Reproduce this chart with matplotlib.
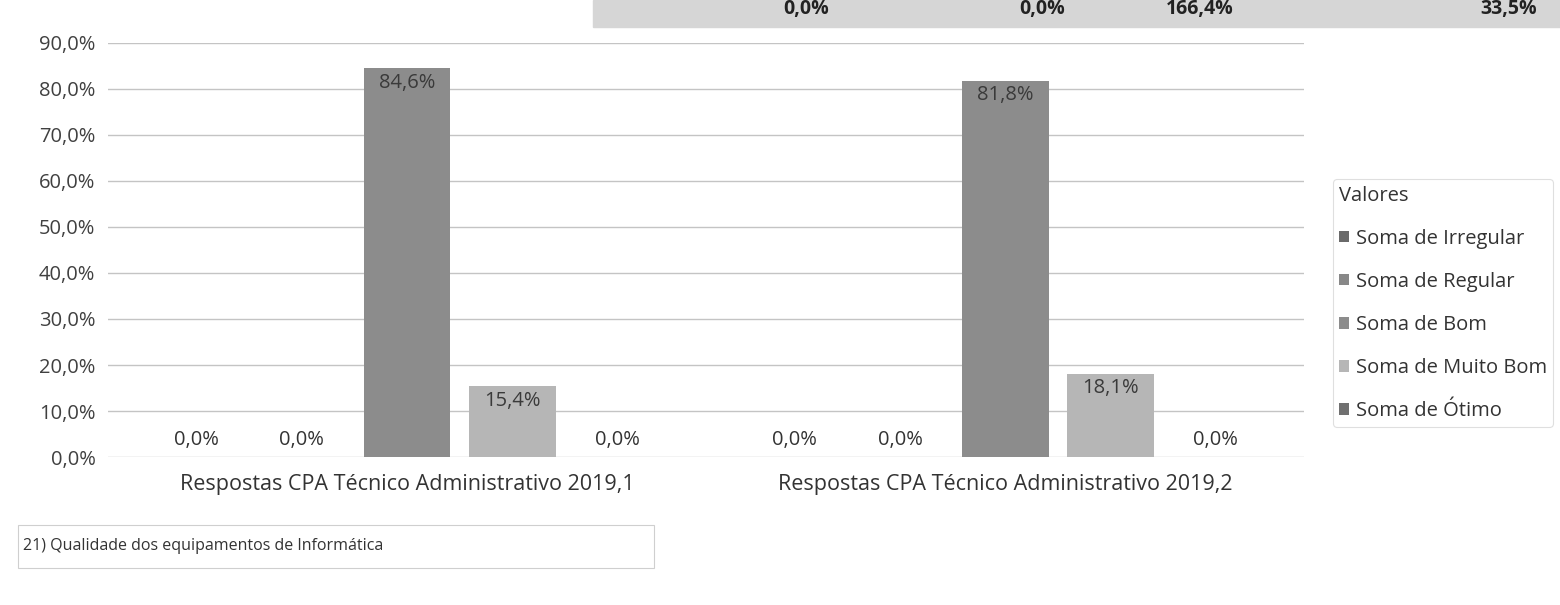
import matplotlib.pyplot as plt
import matplotlib.patches as mpatches
import numpy as np

plt.rcParams['font.family'] = ['Open Sans', 'DejaVu Sans']

# data
groups = ['Respostas CPA Técnico Administrativo 2019,1',
          'Respostas CPA Técnico Administrativo 2019,2']
series = ['Soma de Irregular', 'Soma de Regular', 'Soma de Bom',
          'Soma de Muito Bom', 'Soma de Ótimo']
irregular = [0.0, 0.0]
regular = [0.0, 0.0]
bom = [84.6, 81.8]
muito_bom = [15.4, 18.1]
otimo = [0.0, 0.0]
top_row_labels = ['0,0%', '0,0%', '166,4%', '33,5%']
yticks = [0, 10, 20, 30, 40, 50, 60, 70, 80, 90]
question = '21) Qualidade dos equipamentos de Informática'

colors = ['#6a6a6a', '#888888', '#8c8c8c', '#b6b6b6', '#707070']
values = [irregular, regular, bom, muito_bom, otimo]


def pct(v):
    return f'{v:.1f}%'.replace('.', ',')


fig = plt.figure(figsize=(15.6, 6.05), dpi=100)
ax = fig.add_axes([0.0692, 0.2446, 0.767, 0.6844])

x = np.arange(len(groups))
step = 0.176
width = 0.145
for i, (name, vals) in enumerate(zip(series, values)):
    pos = x + (i - 2) * step
    ax.bar(pos, vals, width=width, color=colors[i], label=name, zorder=3)
    for p, v in zip(pos, vals):
        if v > 0:
            ax.text(p, v - 3.2, pct(v), ha='center', va='center',
                    fontsize=14.5, color='#3a3a3a', zorder=4)
        else:
            ax.text(p, v + 1.5, pct(v), ha='center', va='bottom',
                    fontsize=14.5, color='#333333', zorder=4)

ax.set_xlim(-0.5, 1.5)
ax.set_ylim(0, 90)
ax.set_yticks(yticks)
ax.set_yticklabels([pct(t) for t in yticks], fontsize=14.5, color='#404040')
ax.set_xticks(x)
ax.set_xticklabels(groups, fontsize=15.5, color='#333333')
ax.tick_params(length=0)
ax.tick_params(axis='x', pad=12)
ax.tick_params(axis='y', pad=9)
ax.grid(True, axis='y', color='#c4c4c4', linewidth=1, zorder=0)
for s in ax.spines.values():
    s.set_visible(False)

leg = fig.legend(loc='upper left', bbox_to_anchor=(0.848, 0.72),
                 title='Valores', frameon=True, fontsize=14.5,
                 title_fontsize=14.5, handlelength=0.5, handleheight=0.5,
                 handletextpad=0.35, labelspacing=1.15, borderpad=0.3,
                 alignment='left')
leg.get_frame().set_edgecolor('#d8d8d8')
leg.get_frame().set_linewidth(0.8)
leg.get_title().set_color('#333333')
for t in leg.get_texts():
    t.set_color('#333333')

# gray table strip at the top
fig.patches.append(mpatches.Rectangle((0.38, 0.955), 0.62, 0.045,
                                      transform=fig.transFigure,
                                      color='#d6d6d6', zorder=0))
for xt, lab in zip([0.517, 0.668, 0.769, 0.967], top_row_labels):
    fig.text(xt, 0.985, lab, ha='center', va='center', fontsize=14,
             fontweight='bold', color='#222222')

# question box
fig.patches.append(mpatches.Rectangle((0.0115, 0.061), 0.408, 0.071,
                                      transform=fig.transFigure,
                                      fill=False, edgecolor='#cfcfcf',
                                      linewidth=0.8))
fig.text(0.0145, 0.097, question, ha='left', va='center', fontsize=11.5,
         color='#333333')

fig.savefig('out.png', dpi=100)
